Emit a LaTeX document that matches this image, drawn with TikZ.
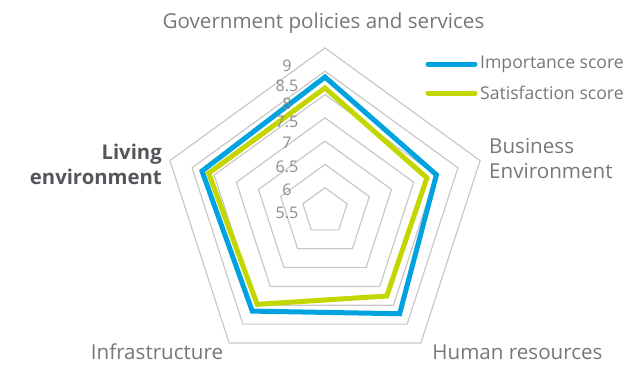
\documentclass[tikz,border=0pt]{standalone}
\usepackage{fontspec}
\setmainfont{Open Sans}
\usetikzlibrary{calc}
\definecolor{txtgray}{HTML}{75787B}
\definecolor{tickgray}{HTML}{8C8C8C}
\definecolor{ringgray}{HTML}{C8C8C8}
\definecolor{impblue}{HTML}{00A3E0}
\definecolor{satgreen}{HTML}{C4D600}
\definecolor{darktxt}{HTML}{53565A}
\begin{document}
\begin{tikzpicture}[x=1pt,y=-1pt,
  ring/.style={draw=ringgray, line width=1.2pt, line join=miter},
  impline/.style={draw=impblue, line width=5pt, line join=miter},
  satline/.style={draw=satgreen, line width=5pt, line join=miter},
  legline/.style={line width=5pt, line cap=round},
  axlabel/.style={text=txtgray, font=\fontsize{20.6}{25}\selectfont, inner sep=0pt},
  ticklab/.style={text=tickgray, font=\fontsize{16}{18}\selectfont, inner sep=0pt},
  ]
\useasboundingbox (0,0) rectangle (633,365);
\def\ru{23.3pt}
\coordinate (c) at (325,211);
% grid rings
\foreach \k in {1,...,7} {
  \draw[ring] ($(c)+(90:\k*\ru)$) -- ($(c)+(18:\k*\ru)$) -- ($(c)+(-54:\k*\ru)$)
    -- ($(c)+(234:\k*\ru)$) -- ($(c)+(162:\k*\ru)$) -- cycle;
}
% data points
\coordinate (i1) at ($(c)+(90:5.75*\ru)$);
\coordinate (i2) at ($(c)+(18:5.03*\ru)$);
\coordinate (i3) at ($(c)+(-54:5.45*\ru)$);
\coordinate (i4) at ($(c)+(234:5.31*\ru)$);
\coordinate (i5) at ($(c)+(162:5.55*\ru)$);
\coordinate (s1) at ($(c)+(90:5.28*\ru)$);
\coordinate (s2) at ($(c)+(18:4.60*\ru)$);
\coordinate (s3) at ($(c)+(-54:4.51*\ru)$);
\coordinate (s4) at ($(c)+(234:4.95*\ru)$);
\coordinate (s5) at ($(c)+(162:5.25*\ru)$);
\draw[impline] (i1) -- (i2) -- (i3) -- (i4) -- (i5) -- cycle;
\draw[satline] (s1) -- (s2) -- (s3) -- (s4) -- (s5) -- cycle;
% tick labels
\node[ticklab] (t55) at (287,213) {5.5};
\node[ticklab] (t60) at (287,190) {6};
\node[ticklab] (t65) at (287,167) {6.5};
\node[ticklab] (t70) at (287,143) {7};
\node[ticklab] (t75) at (287,122) {7.5};
\node[ticklab] (t80) at (287,104) {8};
\node[ticklab] (t85) at (287,86) {8.5};
\node[ticklab] (t90) at (287,66) {9};
% axis labels
\node[axlabel] (gov) at (323.5,23) {Government policies and services};
\node[axlabel, anchor=west, align=left] (bus) at (489,159) {Business\\Environment};
\node[axlabel, anchor=east, align=right, text=darktxt, font=\fontsize{20.3}{25}\selectfont\bfseries] (liv) at (162,164) {Living\\environment};
\node[axlabel] (inf) at (157,352) {Infrastructure};
\node[axlabel] (hum) at (517.5,352) {Human resources};
% legend
\coordinate (la1) at (428,64);
\coordinate (lb1) at (475,64);
\coordinate (la2) at (428,93);
\coordinate (lb2) at (475,93);
\draw[legline, draw=impblue] (la1) -- (lb1);
\draw[legline, draw=satgreen] (la2) -- (lb2);
\node[axlabel, anchor=west, font=\fontsize{17.6}{20}\selectfont] (limp) at (480,64) {Importance score};
\node[axlabel, anchor=west, font=\fontsize{17.6}{20}\selectfont] (lsat) at (480,93) {Satisfaction score};
\end{tikzpicture}
\end{document}
